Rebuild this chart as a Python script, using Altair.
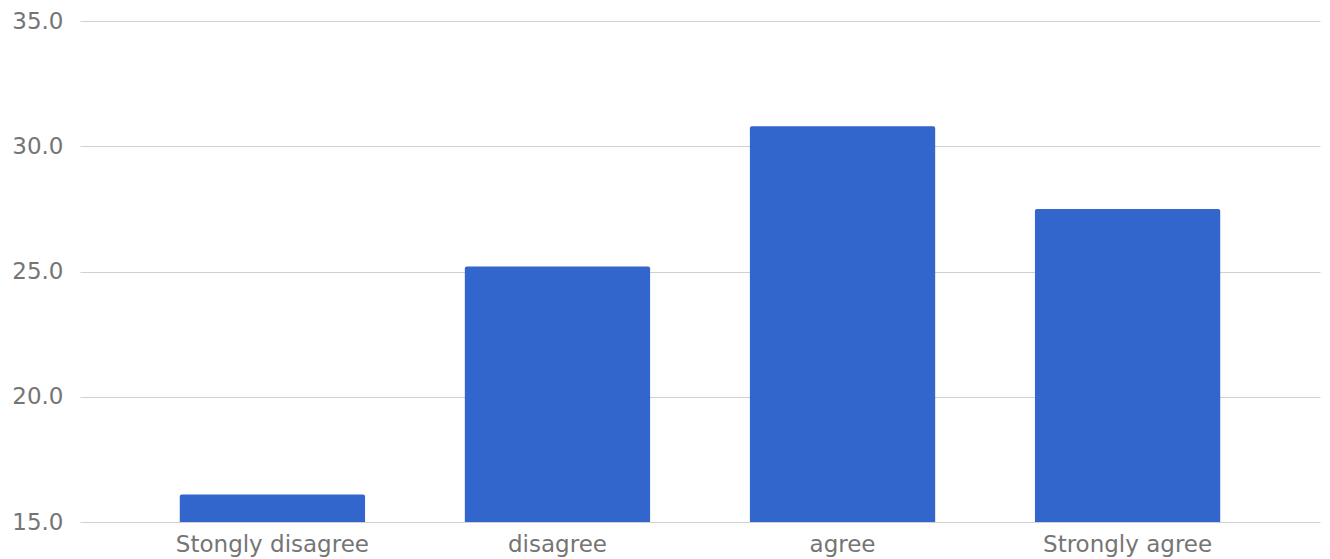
import altair as alt
import pandas as pd

categories = ["Stongly disagree", "disagree", "agree", "Strongly agree"]
values = [16.1, 25.2, 30.8, 27.5]
y_ticks = [15, 20, 25, 30, 35]

df = pd.DataFrame({"category": categories, "value": values})

FONT = "DejaVu Sans"
LABEL_COLOR = "#757575"

chart = alt.Chart(df).mark_bar(
    color="#3366CC", cornerRadiusTopLeft=2, cornerRadiusTopRight=2
).encode(
    x=alt.X("category:N", sort=categories,
            scale=alt.Scale(paddingInner=0.35, paddingOuter=0.35),
            axis=alt.Axis(title=None, labelAngle=0, domain=False, ticks=False,
                          labelFontSize=23, labelColor=LABEL_COLOR, labelFont=FONT,
                          labelPadding=11, labelLimit=400)),
    y=alt.Y("value:Q",
            scale=alt.Scale(domain=[15, 35], nice=False, zero=False),
            axis=alt.Axis(title=None, values=y_ticks, format=".1f",
                          domain=False, ticks=False, labelFontSize=23,
                          labelColor=LABEL_COLOR, labelFont=FONT, labelPadding=17,
                          gridColor="#d0d0d0", gridWidth=1)),
    y2=alt.datum(15),
).properties(
    width=1240, height=501,
    autosize=alt.AutoSizeParams(type="none"),
    padding={"left": 80, "top": 21, "right": 10, "bottom": 37},
).configure(background="white").configure_view(stroke=None)

chart.save("out.html", embed_options={"renderer": "svg", "actions": False})
